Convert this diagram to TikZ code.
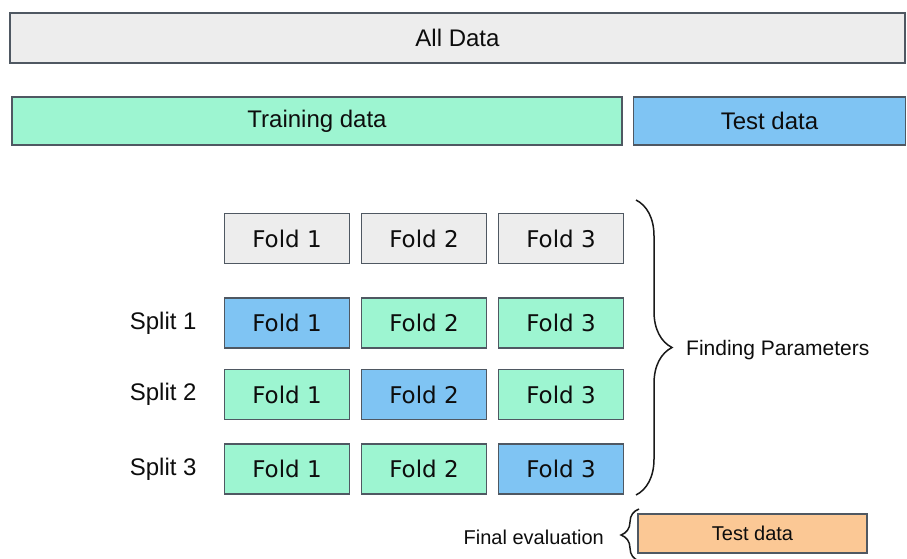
\documentclass[tikz,border=0pt]{standalone}
\usepackage{xcolor}
\usepackage{fontspec}
\setmainfont{Liberation Sans}
\newfontfamily\foldfont{DejaVu Sans}
\usepackage{tikz}
\usetikzlibrary{positioning, decorations.pathreplacing}
\definecolor{boxline}{HTML}{4F5862}
\definecolor{greyfill}{HTML}{EDEDED}
\definecolor{trainfill}{HTML}{9DF5D1}
\definecolor{testfill}{HTML}{7FC4F3}
\definecolor{evalfill}{HTML}{FBC895}
\tikzstyle{databox} = [rectangle, draw=boxline, line width=1.5pt, text centered, text=black!95,
    minimum height=50pt, font=\fontsize{24}{28}\selectfont]
\tikzstyle{foldbox} = [databox, minimum width=125pt, font=\foldfont\fontsize{23}{28}\selectfont]
\tikzstyle{label} = [inner sep=0pt, text=black!95, font=\fontsize{24}{28}\selectfont]
\tikzstyle{curly} = [decorate, line width=1.5pt, black!90]

\begin{document}
\begin{tikzpicture}[x=1pt, y=-1pt, node distance = 10.5pt]
      \useasboundingbox (0,0) rectangle (907,559);
      % Data split
      \node [databox, fill=greyfill, minimum width=895pt] (all) at (457.5,38) {All Data};
      \node [databox, fill=trainfill, minimum width=610pt, minimum height=48pt] (training) at (317,121) {Training data};
      \node [databox, fill=testfill, minimum width=272pt, minimum height=48pt, right=10pt of training] (test) {Test data};
      % Folds
      \node [foldbox, fill=greyfill] (f01) at (287,238.5) {Fold 1};
      \node [foldbox, fill=greyfill, right=of f01] (f02) {Fold 2};
      \node [foldbox, fill=greyfill, right=of f02] (f03) {Fold 3};
      \node [foldbox, fill=testfill, below=33pt of f01] (f11) {Fold 1};
      \node [foldbox, fill=trainfill, right=of f11] (f12) {Fold 2};
      \node [foldbox, fill=trainfill, right=of f12] (f13) {Fold 3};
      \node [foldbox, fill=trainfill, below=20pt of f11] (f21) {Fold 1};
      \node [foldbox, fill=testfill, right=of f21] (f22) {Fold 2};
      \node [foldbox, fill=trainfill, right=of f22] (f23) {Fold 3};
      \node [foldbox, fill=trainfill, below=23pt of f21] (f31) {Fold 1};
      \node [foldbox, fill=trainfill, right=of f31] (f32) {Fold 2};
      \node [foldbox, fill=testfill, right=of f32] (f33) {Fold 3};
      \node [label, left=27pt of f11] (split1) {Split 1};
      \node [label, left=27pt of f21] (split2) {Split 2};
      \node [label, left=27pt of f31] (split3) {Split 3};
      % Braces
      \coordinate (fp-top) at (636,200);
      \coordinate (fp-bottom) at (636,495);
      \draw [curly, decoration={brace, amplitude=36pt}] (fp-top) -- (fp-bottom);
      \node [label, anchor=west, font=\fontsize{21}{25}\selectfont] (findparam) at (686,350) {Finding Parameters};
      \node [databox, fill=evalfill, minimum width=229pt, minimum height=39pt, font=\fontsize{20}{24}\selectfont] (evaltest) at (752.5,533.5) {Test data};
      \coordinate (fe-top) at (639,509);
      \coordinate (fe-bottom) at (639,561);
      \draw [curly, decoration={brace, amplitude=18pt}] (fe-bottom) -- (fe-top);
      \node [label, anchor=east, font=\fontsize{20}{24}\selectfont] (finaleval) at (604,537) {Final evaluation};
\end{tikzpicture}
\end{document}
